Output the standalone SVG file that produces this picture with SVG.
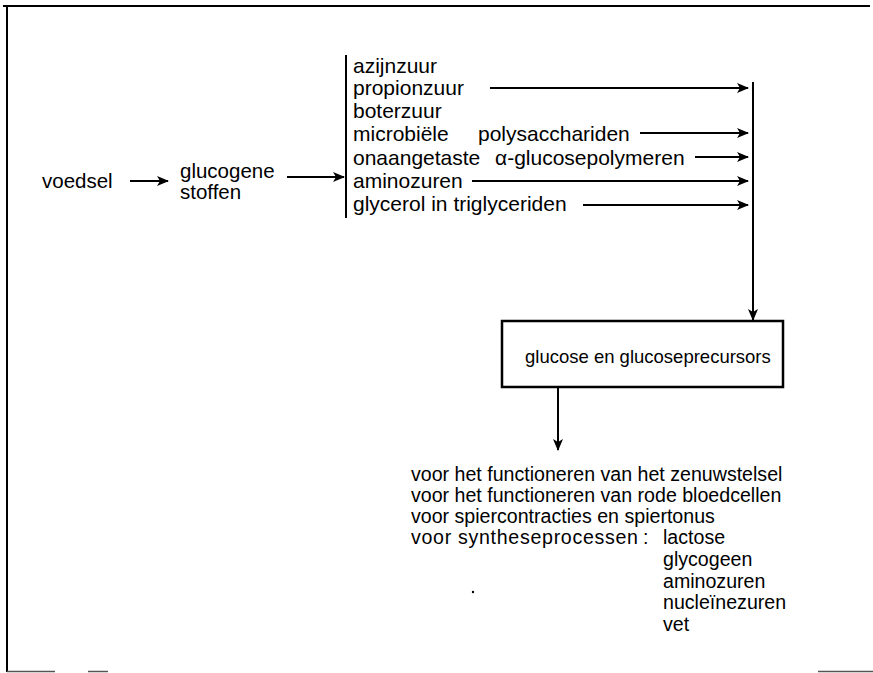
<svg xmlns="http://www.w3.org/2000/svg" width="873" height="673" viewBox="0 0 873 673">
<style>
text{font-family:"Liberation Sans",Arial,sans-serif;fill:#000}
.l{font-size:21px}
.m{font-size:20.5px}
.b{font-size:19.6px}
.ln{stroke:#000;stroke-width:2;fill:none}
.ar{stroke:#000;stroke-width:2;fill:none;marker-end:url(#ah)}
</style>
<defs>
<marker id="ah" viewBox="0 0 12 10" refX="11" refY="5" markerWidth="12" markerHeight="10" markerUnits="userSpaceOnUse" orient="auto">
<path d="M0,0 L12,5 L0,10 L3,5 z" fill="#000"/>
</marker>
</defs>
<g id="frame">
<line class="ln" x1="3" y1="6" x2="870" y2="6" stroke-width="3"/>
<line class="ln" x1="7" y1="5" x2="7" y2="672" stroke-width="3"/>
<line x1="7" y1="671.5" x2="55" y2="671.5" stroke="#555" stroke-width="1.5"/>
<line x1="88" y1="671.5" x2="108" y2="671.5" stroke="#555" stroke-width="1.5"/>
<line x1="818" y1="671.5" x2="873" y2="671.5" stroke="#555" stroke-width="1.5"/>
</g>
<g id="voedsel"><text class="m" x="42" y="188">voedsel</text></g>
<g id="glucogene"><text class="m" x="180" y="178">glucogene</text><text class="m" x="180" y="199">stoffen</text></g>
<g id="list">
<line class="ln" x1="346" y1="55" x2="346" y2="218" stroke-width="3"/>
<text class="l" x="353" y="73">azijnzuur</text>
<text class="l" x="353" y="95">propionzuur</text>
<text class="l" x="353" y="118">boterzuur</text>
<text class="l" x="353" y="141">microbiële<tspan x="478">polysacchariden</tspan></text>
<text class="l" x="353" y="165">onaangetaste<tspan x="495">α-glucosepolymeren</tspan></text>
<text class="l" x="353" y="188">aminozuren</text>
<text class="l" x="353" y="211">glycerol in triglyceriden</text>
</g>
<g id="collector"><line class="ln" x1="753" y1="82" x2="753" y2="300" stroke-width="3"/></g>
<g id="box">
<rect x="502" y="321" width="281" height="66" fill="#fff" stroke="#000" stroke-width="2.5"/>
<text x="525" y="363" style="font-size:18.5px">glucose en glucoseprecursors</text>
</g>
<g id="uses">
<text class="b" x="411" y="481">voor het functioneren van het zenuwstelsel</text>
<text class="b" x="411" y="502">voor het functioneren van rode bloedcellen</text>
<text class="b" x="411" y="523">voor spiercontracties en spiertonus</text>
<text class="b" x="411" y="544"><tspan textLength="227" lengthAdjust="spacing">voor syntheseprocessen</tspan><tspan x="643">:</tspan></text>
<text class="b" x="663" y="544">lactose</text>
<text class="b" x="663" y="566">glycogeen</text>
<text class="b" x="663" y="588">aminozuren</text>
<text class="b" x="663" y="609">nucleïnezuren</text>
<text class="b" x="663" y="631">vet</text>
<circle cx="473" cy="592" r="1.2" fill="#000"/>
</g>
<g id="connectors">
<line class="ar" x1="130" y1="181" x2="168" y2="181"/>
<line class="ar" x1="287" y1="177" x2="344" y2="177"/>
<line class="ar" x1="490" y1="88" x2="748" y2="88"/>
<line class="ar" x1="640" y1="133" x2="748" y2="133"/>
<line class="ar" x1="695" y1="157" x2="748" y2="157"/>
<line class="ar" x1="472" y1="181" x2="748" y2="181"/>
<line class="ar" x1="583" y1="205" x2="748" y2="205"/>
<line class="ar" x1="753" y1="298" x2="753" y2="320"/>
<line class="ar" x1="558" y1="388" x2="558" y2="450"/>
</g>
</svg>
